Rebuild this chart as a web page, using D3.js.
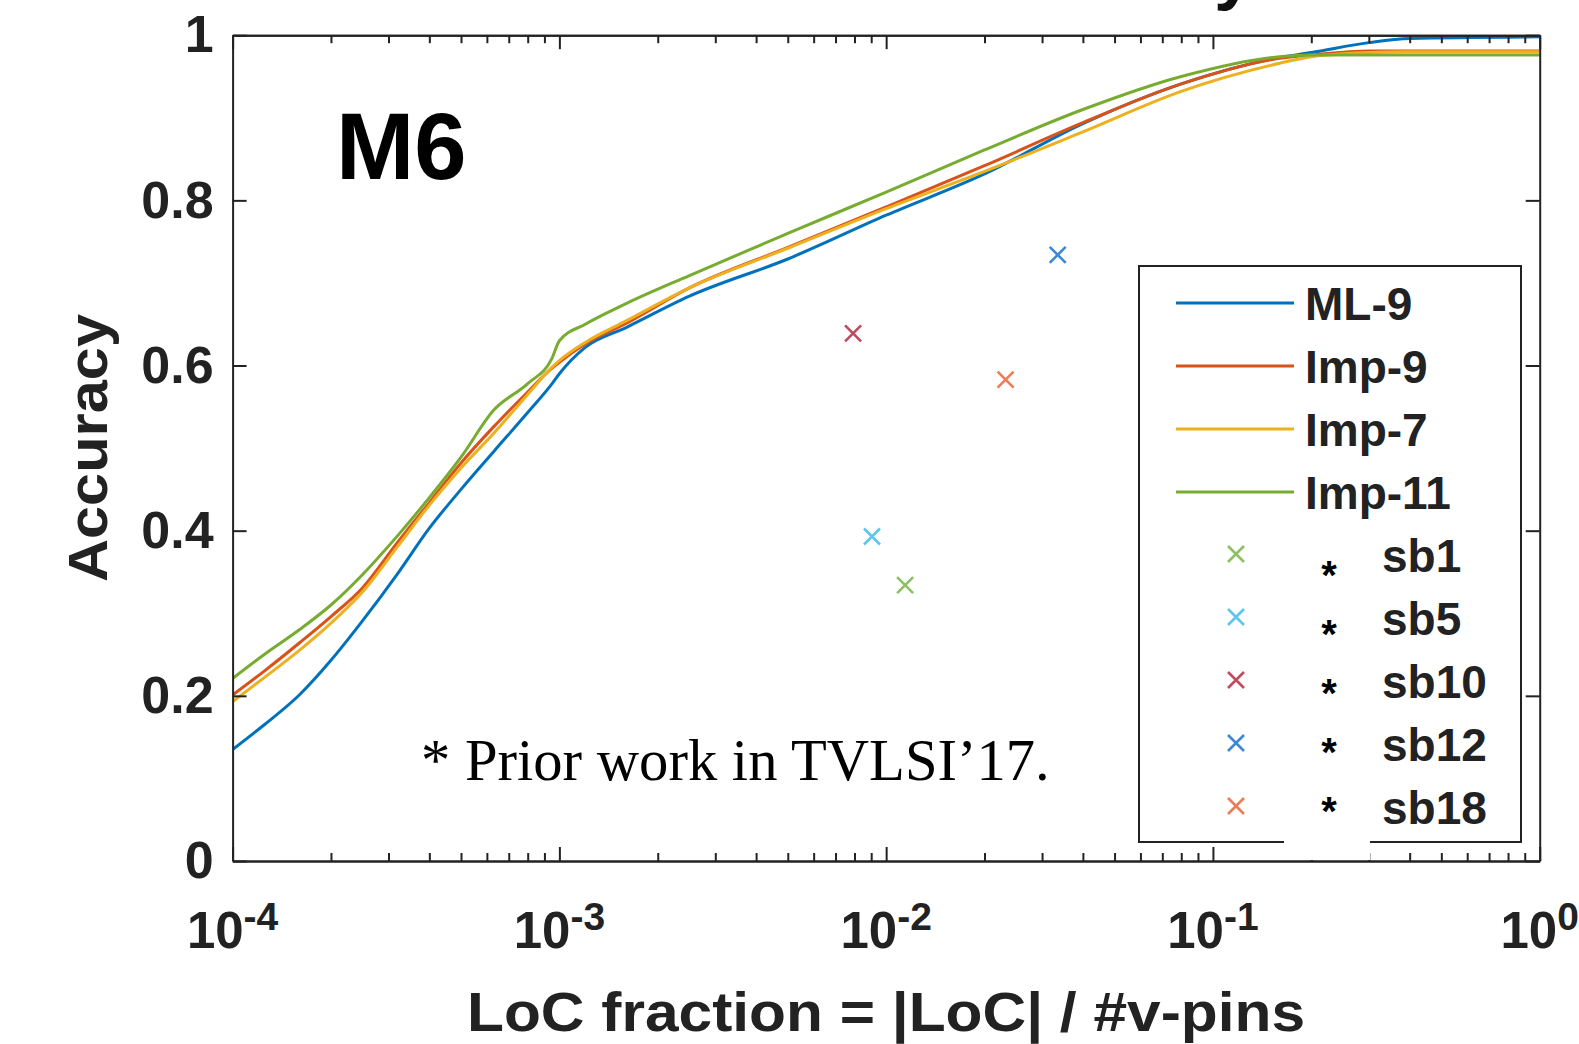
<!DOCTYPE html>
<html>
<head>
<meta charset="utf-8">
<script src="https://cdn.jsdelivr.net/npm/d3@7"></script>
<style>
body { margin: 0; background: white; }
</style>
</head>
<body>
<div id="chart"></div>
<script>
// LoC fraction values shared by all curves
const locFraction = [1e-4, 1.25e-4, 1.6e-4, 2e-4, 2.5e-4, 3.2e-4, 4e-4, 5e-4, 6.3e-4, 8e-4, 9.5e-4, 1e-3,
	1.2e-3, 1.6e-3, 2.5e-3, 5e-3, 1e-2, 2e-2, 4e-2, 8e-2, 0.16, 0.2, 0.3, 0.4, 1];

const ml9 = [0.135, 0.165, 0.201, 0.243, 0.291, 0.348, 0.403, 0.450, 0.496, 0.543, 0.578, 0.590,
	0.622, 0.646, 0.684, 0.729, 0.782, 0.832, 0.893, 0.941, 0.973, 0.979, 0.991, 0.996, 0.998];
const imp9 = [0.201, 0.230, 0.264, 0.296, 0.331, 0.386, 0.434, 0.482, 0.526, 0.568, 0.597, 0.604,
	0.626, 0.651, 0.694, 0.743, 0.792, 0.842, 0.894, 0.941, 0.972, 0.976, 0.981, 0.981, 0.981];
const imp7 = [0.193, 0.222, 0.255, 0.288, 0.326, 0.381, 0.431, 0.476, 0.518, 0.565, 0.598, 0.606,
	0.628, 0.654, 0.694, 0.742, 0.790, 0.835, 0.883, 0.932, 0.966, 0.974, 0.979, 0.980, 0.980];
const imp11 = [0.221, 0.250, 0.280, 0.310, 0.347, 0.394, 0.440, 0.489, 0.546, 0.578, 0.609, 0.630,
	0.650, 0.675, 0.709, 0.760, 0.810, 0.861, 0.910, 0.950, 0.974, 0.976, 0.976, 0.976, 0.976];

const lineNames = ['ML-9', 'Imp-9', 'Imp-7', 'Imp-11'];
const lineColors = ['#0072BD', '#D95319', '#EDB120', '#77AC30'];

// prior work (TVLSI'17) points
const sbNames = ['sb1', 'sb5', 'sb10', 'sb12', 'sb18'];
const sbFraction = [0.01143, 0.00905, 0.00792, 0.0335, 0.0232];
const sbAccuracy = [0.334, 0.393, 0.639, 0.734, 0.583];
const sbColors = ['#8cc063', '#5cc6f0', '#c04a60', '#3d87d4', '#eb7c55'];

const xMajor = [1e-4, 1e-3, 1e-2, 1e-1, 1];
const xExponents = ['-4', '-3', '-2', '-1', '0'];
const yTicks = [0, 0.2, 0.4, 0.6, 0.8, 1];
const yTickLabels = ['0', '0.2', '0.4', '0.6', '0.8', '1'];

const width = 1579, height = 1044;
const plotLeft = 232.6, plotRight = 1539.7, plotTop = 35.2, plotBottom = 861;
const font = "'Liberation Sans', Arial, Helvetica, sans-serif";
const ink = '#222222';

var svg = d3.select('#chart').append('svg')
	.attr('width', width)
	.attr('height', height)
	.style('display', 'block')
	.style('font-family', font);

var x = d3.scaleLog().domain([1e-4, 1]).range([plotLeft, plotRight]);
var y = d3.scaleLinear().domain([0, 1]).range([plotBottom, plotTop]);

var xMinor = [];
xMajor.slice(0, -1).forEach(function(d) {
	for (var k = 2; k < 10; k++) xMinor.push(d * k);
});

// title sits above the picture, only the tail of its last letter shows
svg.append('text')
	.attr('x', 1254)
	.attr('y', -4)
	.attr('text-anchor', 'end')
	.style('font-size', '72px')
	.style('font-weight', 'bold')
	.attr('fill', '#111')
	.text('Accuracy');

svg.append('defs').append('clipPath').attr('id', 'plotclip')
	.append('rect')
	.attr('x', plotLeft).attr('y', plotTop - 2)
	.attr('width', plotRight - plotLeft).attr('height', plotBottom - plotTop + 2);

// curves
var series = [ml9, imp9, imp7, imp11];
var line = d3.line()
	.x(function(d) { return x(d[0]); })
	.y(function(d) { return y(d[1]); })
	.curve(d3.curveMonotoneX);

svg.append('g').attr('clip-path', 'url(#plotclip)')
	.selectAll('path')
	.data(series)
	.join('path')
	.attr('d', function(s) { return line(locFraction.map(function(f, i) { return [f, s[i]]; })); })
	.attr('fill', 'none')
	.attr('stroke', function(s, i) { return lineColors[i]; })
	.attr('stroke-width', 3)
	.attr('stroke-linejoin', 'round');

// prior work markers
function cross(g, cx, cy, color) {
	var r = 8;
	g.append('path')
		.attr('d', 'M' + (cx - r) + ',' + (cy - r) + 'L' + (cx + r) + ',' + (cy + r) +
			'M' + (cx - r) + ',' + (cy + r) + 'L' + (cx + r) + ',' + (cy - r))
		.attr('stroke', color)
		.attr('stroke-width', 2.6)
		.attr('fill', 'none');
}
var marks = svg.append('g');
sbNames.forEach(function(n, i) {
	cross(marks, x(sbFraction[i]), y(sbAccuracy[i]), sbColors[i]);
});

// axes box
function styleAxis(g) {
	g.select('.domain').attr('stroke', ink).attr('stroke-width', 2);
	g.selectAll('.tick line').attr('stroke', ink).attr('stroke-width', 2);
}
svg.append('g').attr('transform', 'translate(0,' + plotBottom + ')')
	.call(d3.axisBottom(x).tickValues(xMinor).tickSize(-8).tickSizeOuter(0).tickFormat(''))
	.call(styleAxis);
svg.append('g').attr('transform', 'translate(0,' + plotBottom + ')')
	.call(d3.axisBottom(x).tickValues(xMajor).tickSize(-14).tickSizeOuter(0).tickFormat(''))
	.call(styleAxis);
svg.append('g').attr('transform', 'translate(0,' + plotTop + ')')
	.call(d3.axisTop(x).tickValues(xMinor).tickSize(-8).tickSizeOuter(0).tickFormat(''))
	.call(styleAxis);
svg.append('g').attr('transform', 'translate(0,' + plotTop + ')')
	.call(d3.axisTop(x).tickValues(xMajor).tickSize(-14).tickSizeOuter(0).tickFormat(''))
	.call(styleAxis);
svg.append('g').attr('transform', 'translate(' + plotRight + ',0)')
	.call(d3.axisRight(y).tickValues(yTicks).tickSize(-14).tickSizeOuter(0).tickFormat(''))
	.call(styleAxis);

var yAxis = svg.append('g').attr('transform', 'translate(' + plotLeft + ',0)')
	.call(d3.axisLeft(y).tickValues(yTicks).tickSize(-14).tickSizeOuter(0).tickPadding(19)
		.tickFormat(function(d, i) { return yTickLabels[i]; }))
	.call(styleAxis);
yAxis.selectAll('text')
	.style('font-family', font)
	.style('font-size', '52px')
	.style('font-weight', 'bold')
	.attr('fill', ink);

// x tick labels as 10^n
var xl = svg.append('g').selectAll('text')
	.data(xMajor)
	.join('text')
	.attr('x', function(d) { return x(d); })
	.attr('y', 948)
	.attr('text-anchor', 'middle')
	.style('font-weight', 'bold')
	.attr('fill', ink);
xl.append('tspan').style('font-size', '51px').text('10');
xl.append('tspan').style('font-size', '39px').attr('dy', -18)
	.text(function(d, i) { return xExponents[i]; });

// axis titles
svg.append('text')
	.attr('x', 886)
	.attr('y', 1031)
	.attr('text-anchor', 'middle')
	.attr('textLength', 838)
	.attr('lengthAdjust', 'spacingAndGlyphs')
	.style('font-size', '56px')
	.style('font-weight', 'bold')
	.attr('fill', ink)
	.text('LoC fraction = |LoC| / #v-pins');

svg.append('text')
	.attr('transform', 'translate(107,448) rotate(-90)')
	.attr('text-anchor', 'middle')
	.attr('textLength', 268)
	.attr('lengthAdjust', 'spacingAndGlyphs')
	.style('font-size', '56px')
	.style('font-weight', 'bold')
	.attr('fill', ink)
	.text('Accuracy');

// panel label and note
svg.append('text')
	.attr('x', 336)
	.attr('y', 179)
	.style('font-size', '94px')
	.style('font-weight', 'bold')
	.attr('fill', '#000')
	.text('M6');

svg.append('text')
	.attr('x', 421)
	.attr('y', 780)
	.style('font-family', "'Liberation Serif', 'Times New Roman', serif")
	.style('font-size', '58.6px')
	.attr('fill', '#000')
	.text('* Prior work in TVLSI\u201917.');

// legend
var lg = svg.append('g');
lg.append('rect')
	.attr('x', 1139).attr('y', 266)
	.attr('width', 1521 - 1139).attr('height', 842 - 266)
	.attr('fill', 'white')
	.attr('stroke', ink)
	.attr('stroke-width', 2);

var rowY = d3.scaleLinear().domain([0, 1]).range([303, 366]);
lineNames.forEach(function(n, i) {
	lg.append('line')
		.attr('x1', 1176).attr('x2', 1294)
		.attr('y1', rowY(i)).attr('y2', rowY(i))
		.attr('stroke', lineColors[i])
		.attr('stroke-width', 3);
	lg.append('text')
		.attr('x', 1305).attr('y', rowY(i) + 17)
		.style('font-size', '46px')
		.style('font-weight', 'bold')
		.attr('fill', ink)
		.text(n);
});
sbNames.forEach(function(n, j) {
	var i = j + lineNames.length;
	cross(lg, 1236, rowY(i) - 1, sbColors[j]);
	lg.append('text')
		.attr('x', 1329).attr('y', rowY(i) + 34 - 4 * j)
		.attr('text-anchor', 'middle')
		.style('font-size', '40px')
		.style('font-weight', 'bold')
		.attr('fill', '#000')
		.text('*');
	lg.append('text')
		.attr('x', 1382).attr('y', rowY(i) + 17)
		.style('font-size', '46px')
		.style('font-weight', 'bold')
		.attr('fill', ink)
		.text(n);
});

// white patch over the legend's bottom edge
svg.append('rect')
	.attr('x', 1284).attr('y', 834)
	.attr('width', 86).attr('height', 26)
	.attr('fill', 'white');
</script>
</body>
</html>
